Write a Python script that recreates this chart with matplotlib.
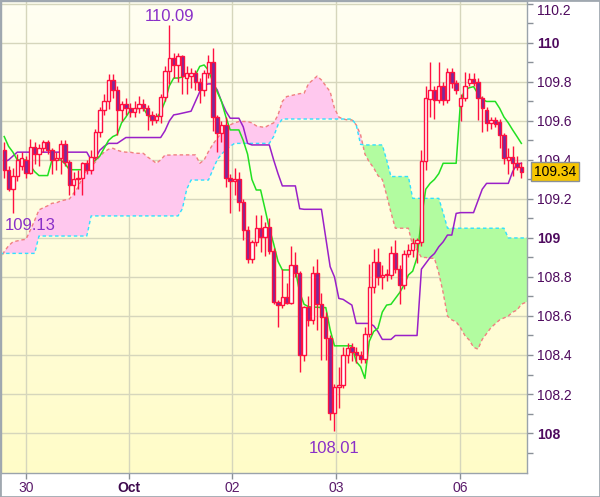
import numpy as np
import matplotlib
matplotlib.use("Agg")
import matplotlib.pyplot as plt
import matplotlib.transforms as mtransforms
from matplotlib.patches import Rectangle

plt.rcParams['font.family'] = ['Liberation Sans', 'DejaVu Sans']

# ---------------- data (hourly candles, index 0..119) ----------------
opens = [109.45, 109.35, 109.25, 109.32, 109.37, 109.40, 109.335, 109.465, 109.43, 109.46,
         109.49, 109.45, 109.40, 109.41, 109.48, 109.39, 109.27, 109.30, 109.306, 109.383,
         109.349, 109.417, 109.545, 109.657, 109.704, 109.81, 109.76, 109.656, 109.685, 109.665,
         109.645, 109.665, 109.685, 109.665, 109.63, 109.605, 109.625, 109.725, 109.855, 109.925,
         109.887, 109.935, 109.82, 109.83, 109.845, 109.80, 109.76, 109.848, 109.904, 109.62,
         109.537, 109.58, 109.306, 109.29, 109.30, 109.186, 109.041, 108.89, 108.98, 109.05,
         109.007, 109.058, 108.935, 108.67, 108.656, 108.696, 108.665, 108.86, 108.82, 108.40,
         108.648, 108.58, 108.818, 108.661, 108.597, 108.485, 108.104, 108.234, 108.246, 108.40,
         108.44, 108.417, 108.40, 108.378, 108.507, 108.747, 108.879, 108.80, 108.81, 108.81,
         108.925, 108.84, 108.76, 108.918, 108.938, 108.976, 108.98, 109.397, 109.71, 109.759,
         109.708, 109.78, 109.708, 109.853, 109.793, 109.677, 109.716, 109.793, 109.814, 109.80,
         109.716, 109.657, 109.588, 109.605, 109.597, 109.528, 109.40, 109.417, 109.383, 109.366]
highs = [109.49, 109.37, 109.36, 109.43, 109.44, 109.42, 109.51, 109.49, 109.48, 109.50,
         109.50, 109.46, 109.44, 109.50, 109.50, 109.40, 109.34, 109.35, 109.39, 109.40,
         109.45, 109.56, 109.67, 109.74, 109.84, 109.84, 109.78, 109.70, 109.72, 109.69,
         109.70, 109.73, 109.71, 109.68, 109.65, 109.64, 109.74, 109.88, 110.09, 109.95,
         109.95, 109.94, 109.88, 109.87, 109.86, 109.82, 109.86, 109.94, 109.973, 109.63,
         109.60, 109.62, 109.33, 109.36, 109.34, 109.20, 109.06, 108.99, 109.12, 109.12,
         109.08, 109.10, 108.95, 108.68, 108.84, 108.77, 108.96, 108.93, 108.83, 108.65,
         108.70, 108.855, 108.89, 108.72, 108.62, 108.50, 108.25, 108.34, 108.44, 108.46,
         108.46, 108.44, 108.42, 108.545, 108.865, 108.946, 108.95, 108.86, 108.84, 108.96,
         108.99, 108.86, 108.94, 108.97, 109.00, 109.00, 109.45, 109.78, 109.90, 109.78,
         109.90, 109.80, 109.87, 109.87, 109.81, 109.74, 109.85, 109.845, 109.845, 109.82,
         109.73, 109.67, 109.62, 109.62, 109.61, 109.54, 109.46, 109.47, 109.42, 109.39]
lows = [109.31, 109.24, 109.13, 109.29, 109.35, 109.31, 109.33, 109.38, 109.37, 109.44,
        109.43, 109.33, 109.35, 109.33, 109.37, 109.22, 109.22, 109.25, 109.22, 109.33,
        109.33, 109.40, 109.52, 109.63, 109.66, 109.72, 109.53, 109.60, 109.63, 109.62,
        109.62, 109.64, 109.65, 109.555, 109.58, 109.59, 109.59, 109.70, 109.79, 109.82,
        109.80, 109.74, 109.74, 109.77, 109.76, 109.69, 109.73, 109.82, 109.55, 109.44,
        109.49, 109.26, 109.13, 109.22, 109.14, 108.99, 108.87, 108.87, 108.96, 108.93,
        108.91, 108.92, 108.66, 108.545, 108.64, 108.66, 108.66, 108.80, 108.315, 108.37,
        108.55, 108.56, 108.53, 108.375, 108.374, 108.067, 108.01, 108.126, 108.23, 108.36,
        108.37, 108.36, 108.357, 108.36, 108.49, 108.72, 108.76, 108.74, 108.78, 108.79,
        108.82, 108.66, 108.74, 108.90, 108.90, 108.87, 108.96, 109.35, 109.62, 109.61,
        109.69, 109.68, 109.69, 109.77, 109.74, 109.60, 109.70, 109.78, 109.78, 109.605,
        109.545, 109.55, 109.56, 109.57, 109.46, 109.38, 109.33, 109.32, 109.35, 109.31]
closes = [109.35, 109.25, 109.32, 109.40, 109.41, 109.335, 109.465, 109.43, 109.46, 109.49,
          109.45, 109.40, 109.41, 109.48, 109.39, 109.27, 109.30, 109.31, 109.383, 109.349,
          109.417, 109.545, 109.657, 109.704, 109.81, 109.76, 109.656, 109.685, 109.665, 109.645,
          109.665, 109.685, 109.665, 109.63, 109.605, 109.625, 109.725, 109.855, 109.925, 109.887,
          109.935, 109.83, 109.845, 109.845, 109.80, 109.76, 109.848, 109.904, 109.62, 109.537,
          109.58, 109.306, 109.29, 109.30, 109.186, 109.041, 108.89, 108.98, 109.05, 109.007,
          109.058, 108.935, 108.67, 108.656, 108.696, 108.665, 108.86, 108.82, 108.40, 108.648,
          108.58, 108.818, 108.661, 108.597, 108.485, 108.104, 108.234, 108.246, 108.40, 108.434,
          108.417, 108.40, 108.378, 108.507, 108.75, 108.879, 108.80, 108.81, 108.815, 108.925,
          108.84, 108.76, 108.918, 108.938, 108.976, 108.99, 109.397, 109.72, 109.759, 109.708,
          109.78, 109.708, 109.853, 109.793, 109.759, 109.716, 109.78, 109.814, 109.793, 109.716,
          109.665, 109.588, 109.605, 109.585, 109.528, 109.409, 109.417, 109.383, 109.366, 109.34]

# conversion line (green) and base line (purple), one value per candle
tenkan = [109.52, 109.47, 109.44, 109.40, 109.40, 109.40, 109.37, 109.34, 109.32, 109.32,
          109.32, 109.40, 109.40, 109.40, 109.38, 109.35, 109.35, 109.35, 109.35, 109.35,
          109.38, 109.40, 109.42, 109.46, 109.50, 109.52, 109.53, 109.59, 109.62, 109.655,
          109.66, 109.665, 109.665, 109.63, 109.614, 109.614, 109.645, 109.70, 109.78, 109.82,
          109.82, 109.825, 109.835, 109.836, 109.836, 109.88, 109.887, 109.86, 109.80, 109.75,
          109.70, 109.622, 109.554, 109.554, 109.554, 109.50, 109.43, 109.30, 109.246, 109.246,
          109.15, 109.05, 108.97, 108.88, 108.836, 108.836, 108.836, 108.836, 108.72, 108.66,
          108.648, 108.645, 108.645, 108.643, 108.643, 108.53, 108.447, 108.447, 108.447, 108.447,
          108.447, 108.366, 108.34, 108.28, 108.47, 108.52, 108.537, 108.62, 108.656, 108.66,
          108.69, 108.72, 108.759, 108.81, 108.83, 108.90, 109.10, 109.25, 109.28, 109.30,
          109.33, 109.383, 109.383, 109.383, 109.383, 109.70, 109.76, 109.77, 109.776, 109.74,
          109.71, 109.70, 109.70, 109.70, 109.665, 109.62, 109.59, 109.554, 109.52, 109.485]
kijun = [109.39, 109.40, 109.42, 109.44, 109.44, 109.44, 109.44, 109.44, 109.44, 109.44,
         109.44, 109.44, 109.44, 109.44, 109.44, 109.44, 109.44, 109.44, 109.44, 109.44,
         109.40, 109.41, 109.45, 109.47, 109.485, 109.485, 109.485, 109.50, 109.515, 109.515,
         109.515, 109.515, 109.515, 109.515, 109.515, 109.515, 109.515, 109.55, 109.60, 109.631,
         109.635, 109.64, 109.645, 109.65, 109.70, 109.75, 109.785, 109.79, 109.79, 109.76,
         109.70, 109.65, 109.614, 109.614, 109.614, 109.57, 109.485, 109.477, 109.477, 109.477,
         109.477, 109.477, 109.40, 109.33, 109.267, 109.267, 109.267, 109.267, 109.15, 109.147,
         109.147, 109.147, 109.147, 109.147, 109.00, 108.853, 108.80, 108.69, 108.685, 108.67,
         108.656, 108.562, 108.562, 108.562, 108.562, 108.55, 108.52, 108.48, 108.48, 108.48,
         108.50, 108.50, 108.50, 108.50, 108.50, 108.50, 108.84, 108.87, 108.90, 108.92,
         108.955, 108.98, 109.015, 109.015, 109.126, 109.13, 109.13, 109.13, 109.13, 109.19,
         109.25, 109.28, 109.28, 109.28, 109.28, 109.28, 109.28, 109.34, 109.38, 109.383]

# leading spans (cloud), index -1 .. 121
span_a = [108.887, 108.93, 108.96, 108.98, 108.985, 108.99, 108.993, 109.04, 109.09, 109.144,
          109.155, 109.165, 109.178, 109.18, 109.19, 109.195, 109.20, 109.23, 109.26, 109.31,
          109.35, 109.366, 109.39, 109.42, 109.44, 109.455, 109.46, 109.45, 109.443, 109.44,
          109.44, 109.435, 109.434, 109.434, 109.415, 109.40, 109.383, 109.40, 109.425, 109.425,
          109.426, 109.426, 109.426, 109.426, 109.426, 109.426, 109.383, 109.40, 109.443, 109.48,
          109.51, 109.54, 109.565, 109.58, 109.59, 109.597, 109.597, 109.597, 109.59, 109.575,
          109.57, 109.567, 109.58, 109.59, 109.63, 109.70, 109.725, 109.73, 109.735, 109.74,
          109.742, 109.79, 109.81, 109.83, 109.81, 109.78, 109.75, 109.665, 109.62, 109.61,
          109.605, 109.605, 109.58, 109.53, 109.43, 109.39, 109.36, 109.32, 109.30, 109.22,
          109.13, 109.05, 109.05, 109.05, 109.05, 108.96, 108.94, 108.90, 108.90, 108.896,
          108.896, 108.82, 108.72, 108.60, 108.58, 108.57, 108.54, 108.50, 108.477, 108.44,
          108.43, 108.48, 108.51, 108.54, 108.56, 108.58, 108.59, 108.60, 108.62, 108.63,
          108.66, 108.67, 108.68]
span_b = [108.921] * 9 + [109.01] * 12 + [109.113] * 21 + [109.15, 109.25] + [109.297] * 5 + \
         [109.35, 109.40, 109.43, 109.45, 109.47] + [109.485] * 9 + [109.52, 109.58] + [109.61] * 17 + \
         [109.58, 109.48] + [109.477] * 5 + [109.40] + [109.315] * 5 + [109.203] * 7 + [109.13] + \
         [109.05] * 14 + [109.0] * 6

date_ticks = [5.0, 28.7, 52.4, 76.4, 104.9]
date_labels = ["30", "Oct", "02", "03", "06"]
last_price = 109.34
low_label = "109.13"
high_label = "110.09"
min_label = "108.01"

# ---------------- figure ----------------
fig = plt.figure(figsize=(6.0, 4.97), dpi=100)
fig.patch.set_facecolor("white")
ax = fig.add_axes([1 / 600, 24 / 497, 526 / 600, 472 / 497])

xlo, xhi = -0.74, 120.3
ylo, yhi = 107.795, 110.215
ax.set_xlim(xlo, xhi)
ax.set_ylim(ylo, yhi)

# gradient background
grad = np.linspace(0, 1, 256).reshape(-1, 1)
top = np.array([255, 255, 242]) / 255
bot = np.array([255, 252, 200]) / 255
img = top[None, None, :] * (1 - grad[:, :, None]) + bot[None, None, :] * grad[:, :, None]
ax.imshow(img, extent=[0, 1, 0, 1], transform=ax.transAxes, aspect="auto", zorder=0)

# grid
for yv in np.arange(108.0, 110.21, 0.2):
    ax.axhline(yv, color="#d6d6bc", lw=1, zorder=1)
for xv in date_ticks:
    ax.axvline(xv, color="#d6d6bc", lw=1, zorder=1)

# cloud
xc = np.arange(-1, -1 + len(span_a))
A = np.array(span_a)
B = np.array(span_b)
ax.fill_between(xc, A, B, where=A >= B, interpolate=True, color="#ffc8ee", lw=0, zorder=2)
ax.fill_between(xc, A, B, where=A < B, interpolate=True, color="#b2fca0", lw=0, zorder=2)
ax.plot(xc, A, color="#f08080", lw=1.0, ls=(0, (2.5, 2)), zorder=3)
ax.plot(xc, B, color="#30e0ff", lw=1.0, ls=(0, (2.5, 2)), zorder=3)

# lines
xi = np.arange(len(opens))
ax.plot(xi, kijun, color="#9a20c8", lw=1.1, zorder=4)
ax.plot(xi, tenkan, color="#22e022", lw=1.1, zorder=4)

# candles
O = np.array(opens); H = np.array(highs); L = np.array(lows); C = np.array(closes)
up = C >= O
ax.vlines(xi, L, H, color="#ff1040", lw=1.0, zorder=5)
bottoms = np.minimum(O, C)
heights = np.maximum(np.abs(C - O), 0.004)
ax.bar(xi[up], heights[up], bottom=bottoms[up], width=0.78, facecolor="white",
       edgecolor="#ff1040", linewidth=1.0, zorder=6)
ax.bar(xi[~up], heights[~up], bottom=bottoms[~up], width=0.78, facecolor="#7a2a9a",
       edgecolor="#ff1040", linewidth=1.0, zorder=6)

# annotations of extremes
i_low = int(np.argmin(L[:20]))
i_high = int(np.argmax(H))
i_min = int(np.argmin(L))
ax.text(i_low + 4, L[i_low] - 0.03, low_label, color="#8a30c8", fontsize=12,
        ha="center", va="top", zorder=7)
ax.text(i_high, H[i_high] + 0.005, high_label, color="#8a30c8", fontsize=12,
        ha="center", va="bottom", zorder=7)
ax.text(i_min, L[i_min] - 0.05, min_label, color="#8a30c8", fontsize=12,
        ha="center", va="top", zorder=7)

# axes styling
ax.yaxis.tick_right()
major = np.round(np.arange(108.0, 110.21, 0.2), 1)
ax.set_yticks(major)
ax.set_yticks(np.round(np.arange(107.9, 110.21, 0.1), 1), minor=True)
ylabels = [("%d" % v) if abs(v - round(v)) < 1e-6 else ("%.1f" % v) for v in major]
ax.set_yticklabels(ylabels)
for lab, v in zip(ax.get_yticklabels(), major):
    lab.set_color("#4e0a5e")
    lab.set_fontsize(10)
    if abs(v - round(v)) < 1e-6:
        lab.set_fontweight("bold")
    if v > 110.1:
        lab.set_verticalalignment("top")
ax.tick_params(axis="y", which="both", direction="out", length=4, width=1,
               color="#8a9098", pad=3)
ax.set_xticks(date_ticks)
ax.set_xticklabels(date_labels)
for lab in ax.get_xticklabels():
    lab.set_color("#5a1a6a")
    lab.set_fontsize(10)
    if lab.get_text() == "Oct":
        lab.set_fontweight("bold")
        lab.set_color("#3e0a4e")
ax.tick_params(axis="x", direction="out", length=4, width=1, color="#8a9098", pad=2)
for s in ["left", "right", "bottom", "top"]:
    ax.spines[s].set_color("#9aa3ab")
    ax.spines[s].set_linewidth(1)

# last price box
tr = mtransforms.blended_transform_factory(ax.transAxes, ax.transData)
ax.text(1.013, last_price, "%.2f" % last_price, transform=tr, fontsize=10, color="black",
        ha="left", va="center", zorder=10, clip_on=False,
        bbox=dict(boxstyle="square,pad=0.18", facecolor="#f7c600", edgecolor="#8a9098", lw=1))

fig.patches.append(Rectangle((0, 0), 1, 1, transform=fig.transFigure, fill=False,
                             edgecolor="#a0a8b0", lw=2))

fig.savefig("out.png", dpi=100)
